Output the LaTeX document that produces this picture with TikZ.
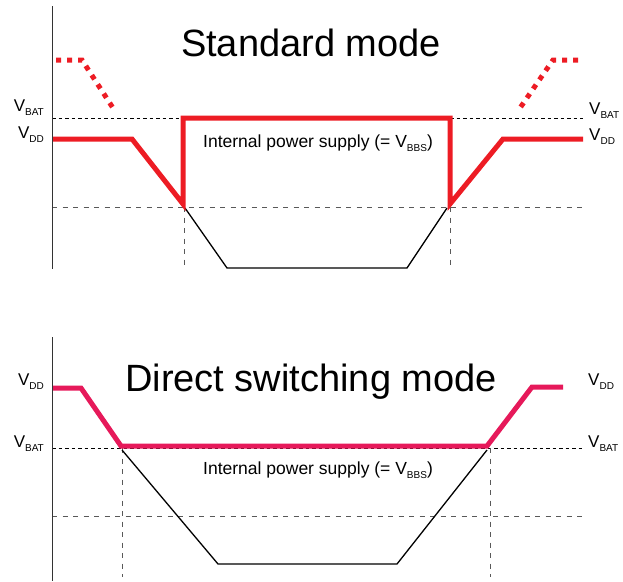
\documentclass[tikz,border=0pt]{standalone}
\usepackage{fontspec}
\setmainfont{Liberation Sans}
\usepackage{xcolor}
\usepackage{tikz}

\definecolor{stdred}{RGB}{237,28,36}
\definecolor{dirred}{RGB}{230,25,90}
\newcommand{\vsub}[1]{V\raisebox{-4.5pt}{\fontsize{10}{10}\selectfont #1}}

\begin{document}
\begin{tikzpicture}[x=1pt, y=-1pt,
    axis/.style={line width=0.9pt, black!80},
    supply/.style={line width=5pt},
    dotsupply/.style={line width=5pt, dash pattern=on 5pt off 6pt},
    batline/.style={line width=0.7pt, dash pattern=on 3.5pt off 3pt},
    refline/.style={line width=0.9pt, black!65, dash pattern=on 5pt off 5.5pt},
    inner/.style={line width=1.3pt},
    vlabel/.style={font=\fontsize{17}{17}\selectfont, inner sep=0pt},
    title/.style={font=\fontsize{38}{40}\selectfont, inner sep=0pt, anchor=base},
    note/.style={font=\fontsize{17.5}{18}\selectfont, inner sep=0pt, anchor=base west}]
            \useasboundingbox (0,0) rectangle (623,581);

            % standard mode
            \node [title] (stdtitle) at (311,56) {Standard mode};
            \node [note] (stdnote) at (203,147) {Internal power supply (= \vsub{BBS})};
            \node [vlabel, anchor=base east] (stdbatl) at (44,111) {\vsub{BAT}};
            \node [vlabel, anchor=base east] (stdddl) at (44,138) {\vsub{DD}};
            \node [vlabel, anchor=base west] (stdbatr) at (589,114) {\vsub{BAT}};
            \node [vlabel, anchor=base west] (stdddr) at (589,140) {\vsub{DD}};

            \draw[batline] (52,118) -- (183,118);
            \draw[batline] (450,118) -- (583,118);
            \draw[refline] (52,207) -- (583,207);
            \draw[refline] (184,207) -- (184,269);
            \draw[refline] (450,207) -- (450,269);
            \draw[inner] (185,208) -- (227,268) -- (407,268) -- (447,208);
            \draw[stdred, dotsupply] (56,60) -- (82,60) -- (113,108);
            \draw[stdred, dotsupply] (578,60) -- (553,60) -- (520,108);
            \draw[stdred, supply] (52,139) -- (132,139) -- (183,204) -- (183,118)
                -- (450,118) -- (450,204) -- (503,139) -- (583,139);
            \draw[axis] (52,6) -- (52,269);

            % direct switching mode
            \node [title] (dirtitle) at (311,391) {Direct switching mode};
            \node [note] (dirnote) at (203,474) {Internal power supply (= \vsub{BBS})};
            \node [vlabel, anchor=base east] (dirddl) at (44,385) {\vsub{DD}};
            \node [vlabel, anchor=base east] (dirbatl) at (44,447) {\vsub{BAT}};
            \node [vlabel, anchor=base west] (dirddr) at (588,385) {\vsub{DD}};
            \node [vlabel, anchor=base west] (dirbatr) at (588,447) {\vsub{BAT}};

            \draw[batline] (52,448) -- (583,448);
            \draw[refline] (52,516) -- (583,516);
            \draw[refline] (122,448) -- (122,577);
            \draw[refline] (490,448) -- (490,577);
            \draw[inner] (122,450) -- (218,564) -- (397,564) -- (487,450);
            \draw[dirred, supply] (52,388) -- (81,388) -- (121,446) -- (487,446)
                -- (532,387) -- (563,387);
            \draw[axis] (52,337) -- (52,581);
\end{tikzpicture}
\end{document}
